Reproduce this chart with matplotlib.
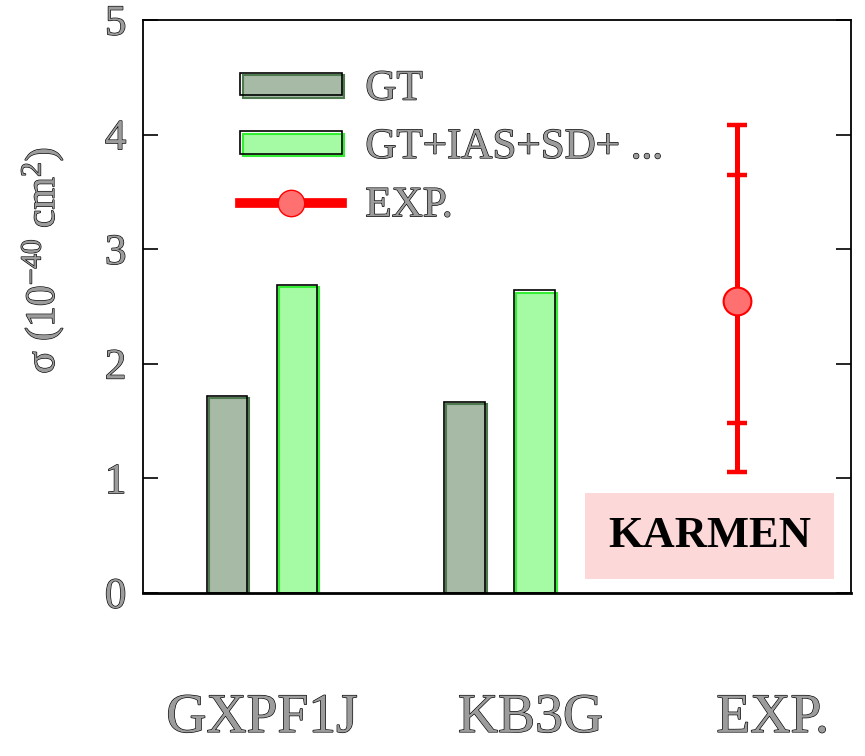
import matplotlib
matplotlib.use('Agg')
import matplotlib.pyplot as plt
import matplotlib.patheffects as pe
from matplotlib.lines import Line2D
from matplotlib.legend_handler import HandlerTuple

# datos
grupos = ['GXPF1J', 'KB3G']
pos_grupos = [0, 1]
sigma_gt = [1.72, 1.67]
sigma_total = [2.69, 2.64]
exp_x = 2
exp_val = 2.55
exp_err_int = (1.48, 3.65)   # barra interna
exp_err_ext = (1.06, 4.08)   # barra externa
etiquetas = ['GXPF1J', 'KB3G', 'EXP.']
pos_etiquetas = [0, 1.13, 2.15]

plt.rcParams['font.family'] = ['Liberation Serif', 'DejaVu Serif']
plt.rcParams['mathtext.fontset'] = 'custom'
plt.rcParams['mathtext.rm'] = 'Liberation Serif'
plt.rcParams['mathtext.it'] = 'Liberation Serif:italic'

contorno = [pe.Stroke(linewidth=0.9, foreground='black'), pe.Normal()]
gris = '#9c9c9c'

fig = plt.figure(figsize=(8.65, 7.56), dpi=100)
ax = fig.add_axes([0.1653, 0.2156, 0.8185, 0.758])

ancho = 0.17
desp = 0.147
sombra = [pe.Stroke(offset=(1.5, -1.5))]

xs_gt = [p - desp for p in pos_grupos]
xs_tot = [p + desp for p in pos_grupos]
b1 = ax.bar(xs_gt, sigma_gt, ancho, color='#a6baa6', edgecolor='#4f7a4f', lw=1.5,
            path_effects=sombra, zorder=2)
b1o = ax.bar(xs_gt, sigma_gt, ancho, fill=False, edgecolor='black', lw=1.2, zorder=3)
b2 = ax.bar(xs_tot, sigma_total, ancho, color='#a4fba4', edgecolor='#33ee33', lw=1.5,
            path_effects=sombra, zorder=2)
b2o = ax.bar(xs_tot, sigma_total, ancho, fill=False, edgecolor='black', lw=1.2, zorder=3)

# experimento
ax.errorbar([exp_x], [exp_val],
            yerr=[[exp_val - exp_err_ext[0]], [exp_err_ext[1] - exp_val]],
            fmt='none', ecolor='red', elinewidth=3.6, capsize=7, capthick=3.2, zorder=4)
ax.errorbar([exp_x], [exp_val],
            yerr=[[exp_val - exp_err_int[0]], [exp_err_int[1] - exp_val]],
            fmt='none', ecolor='red', elinewidth=3.6, capsize=7, capthick=3.2, zorder=4)
ax.plot([exp_x], [exp_val], 'o', ms=20, mfc='#ff7070', mec='red', mew=1.5, zorder=5)

ax.set_xlim(-0.501, 2.48)
ax.set_ylim(0, 5)
ax.set_xticks([])
ax.set_yticks([0, 1, 2, 3, 4, 5])
ax.tick_params(axis='y', direction='in', length=11, width=1.2, right=True,
               labelsize=31, pad=12)
for t in ax.get_yticklabels():
    t.set_color(gris)
    t.set_path_effects(contorno)
for s in ax.spines.values():
    s.set_linewidth(1.3)
ax.spines['bottom'].set_linewidth(2)

ax.set_ylabel('σ (10$^{-40}$ cm$^{2}$)', fontsize=30, color=gris,
              path_effects=contorno)
ax.yaxis.set_label_coords(-0.11, 0.58)

for x, txt in zip(pos_etiquetas, etiquetas):
    ax.text(x, -0.218, txt, transform=ax.get_xaxis_transform(), ha='center',
            va='center', fontsize=40, color=gris, path_effects=contorno)

# leyenda
h_exp = Line2D([], [], color='red', lw=7, marker='o', ms=19, mfc='#ff7070', mec='red')
leg = ax.legend([(b1[0], b1o[0]), (b2[0], b2o[0]), h_exp],
                ['GT', 'GT+IAS+SD+ ...', 'EXP.'],
                handler_map={tuple: HandlerTuple(ndivide=1, pad=0)},
                loc='upper left', bbox_to_anchor=(0.083, 0.98), frameon=False,
                fontsize=31, handlelength=2.35, handleheight=0.42,
                handletextpad=0.55, labelspacing=0.46)
for t in leg.get_texts():
    t.set_color(gris)
    t.set_path_effects(contorno)

ax.text(0.8, 0.1, 'KARMEN', transform=ax.transAxes, ha='center', va='center',
        fontsize=32, fontweight='bold', color='black',
        bbox=dict(boxstyle='square,pad=0.52', fc='#fdd8d8', ec='none'))

fig.savefig('out.png', dpi=100)
